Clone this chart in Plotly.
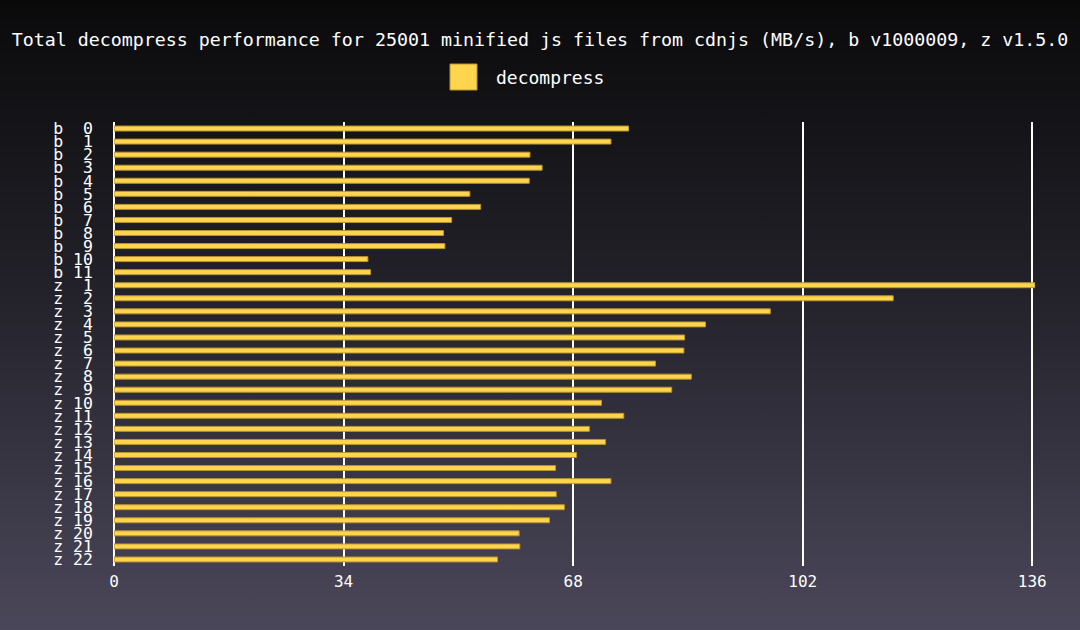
import base64
import plotly.graph_objects as go

# ---- data ----
categories = ["b  0", "b  1", "b  2", "b  3", "b  4", "b  5", "b  6", "b  7", "b  8", "b  9",
              "b 10", "b 11",
              "z  1", "z  2", "z  3", "z  4", "z  5", "z  6", "z  7", "z  8", "z  9", "z 10",
              "z 11", "z 12", "z 13", "z 14", "z 15", "z 16", "z 17", "z 18", "z 19", "z 20",
              "z 21", "z 22"]
decompress = [76.2, 73.6, 61.6, 63.4, 61.5, 52.7, 54.3, 50.0, 48.8, 49.0,
              37.6, 38.0,
              136.4, 115.4, 97.2, 87.6, 84.5, 84.4, 80.2, 85.5, 82.6, 72.2,
              75.5, 70.4, 72.8, 68.5, 65.4, 73.6, 65.5, 66.7, 64.5, 60.0,
              60.1, 56.8]
x_ticks = [0, 34, 68, 102, 136]
series_name = "decompress"
title = "Total decompress performance for 25001 minified js files from cdnjs (MB/s), b v1000009, z v1.5.0"

# ---- layout constants ----
W, H = 1080, 630
L, R, T, B = 114, 45, 122, 64
PW, PH = W - L - R, H - T - B
FONT = "DejaVu Sans Mono"
YELLOW = "#ffd54f"
EDGE = "#b8942e"

labels = [c.replace(" ", "\u00a0") for c in categories]

def px(x):
    return (x - L) / PW

def py(y):
    return (H - B - y) / PH

svg = (
    f'<svg xmlns="http://www.w3.org/2000/svg" width="{W}" height="{H}" preserveAspectRatio="none">'
    '<defs><linearGradient id="g" x1="0" y1="0" x2="0" y2="1">'
    '<stop offset="0" stop-color="#0a0a0b"/>'
    '<stop offset="0.45" stop-color="#222129"/>'
    '<stop offset="1" stop-color="#4b475a"/>'
    '</linearGradient></defs>'
    f'<rect width="{W}" height="{H}" fill="url(#g)"/></svg>'
)
bg_uri = "data:image/svg+xml;base64," + base64.b64encode(svg.encode()).decode()

fig = go.Figure()
fig.add_trace(go.Bar(
    x=decompress, y=labels, orientation="h", name=series_name,
    marker=dict(color=YELLOW, line=dict(color=EDGE, width=1)),
    width=0.38, showlegend=False,
))

fig.update_layout(
    width=W, height=H,
    margin=dict(l=L, r=R, t=T, b=B, pad=0),
    paper_bgcolor="rgba(0,0,0,0)",
    plot_bgcolor="rgba(0,0,0,0)",
    font=dict(family=FONT, color="white", size=16),
    title=dict(text=title, x=0.5, xanchor="center", y=1 - 40 / H, yanchor="middle",
               font=dict(family=FONT, size=18.3, color="white")),
    showlegend=False,
    xaxis=dict(range=[0, max(decompress)], tickmode="array", tickvals=x_ticks,
               ticktext=[str(v) for v in x_ticks],
               showgrid=True, gridcolor="white", gridwidth=1.5,
               zeroline=True, zerolinecolor="white", zerolinewidth=2,
               showline=False, ticks="", tickfont=dict(size=16, color="white", family=FONT),
               ticklabelstandoff=4, fixedrange=True),
    yaxis=dict(autorange="reversed", showgrid=False, zeroline=False, showline=False,
               type="category", tickmode="array", tickvals=labels, ticktext=labels,
               ticks="", tickfont=dict(size=16.5, color="white", family=FONT),
               ticklabelstandoff=20),
    images=[dict(source=bg_uri, xref="paper", yref="paper",
                 x=px(0), y=py(0), sizex=W / PW, sizey=H / PH,
                 xanchor="left", yanchor="top", sizing="stretch", layer="below")],
    shapes=[dict(type="rect", xref="paper", yref="paper",
                 x0=px(450), x1=px(477), y0=py(90), y1=py(64),
                 fillcolor=YELLOW, line=dict(color=EDGE, width=1))],
    annotations=[dict(text=series_name, xref="paper", yref="paper",
                      x=px(494), y=py(77), xanchor="left", yanchor="middle",
                      showarrow=False, font=dict(family=FONT, size=18, color="white"))],
)

fig.write_html("out.html")
